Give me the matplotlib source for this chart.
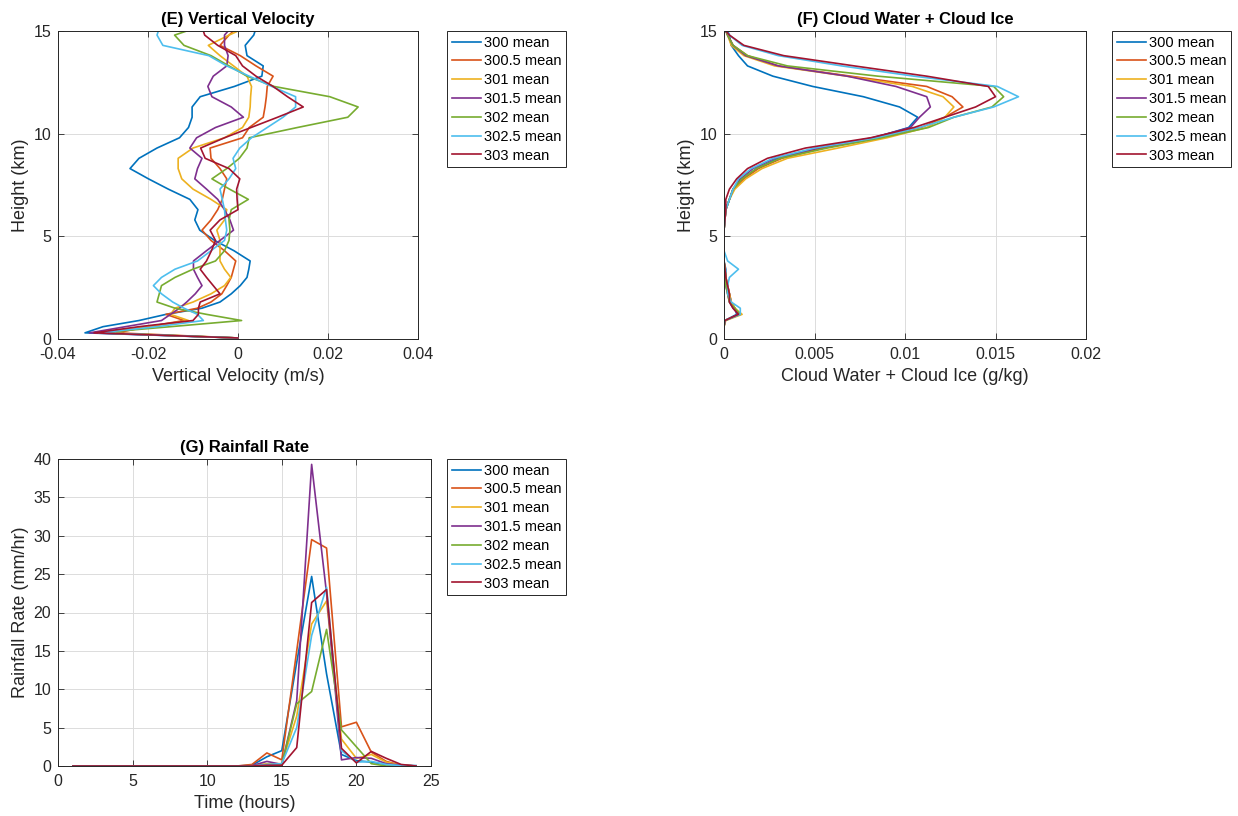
import matplotlib
matplotlib.use('Agg')
import matplotlib.pyplot as plt
import numpy as np

plt.rcParams['font.family'] = ['Liberation Sans', 'DejaVu Sans']
plt.rcParams['axes.unicode_minus'] = False

labels = ['300 mean', '300.5 mean', '301 mean', '301.5 mean', '302 mean', '302.5 mean', '303 mean']
colors = ['#0072BD', '#D95319', '#EDB120', '#7E2F8E', '#77AC30', '#4DBEEE', '#A2142F']

# model levels (km)
height = [0.05, 0.3, 0.6, 0.9, 1.2, 1.5, 1.8, 2.2, 2.6, 3.0, 3.4, 3.8, 4.3, 4.8, 5.3, 5.8, 6.3,
          6.8, 7.3, 7.8, 8.3, 8.8, 9.3, 9.8, 10.3, 10.8, 11.3, 11.8, 12.3, 12.8, 13.3, 13.8,
          14.3, 14.8, 15.0]

# (E) vertical velocity (m/s)
w300 = [0, -0.034, -0.030, -0.022, -0.016, -0.008, -0.004, -0.0015, 0.0005, 0.002, 0.0024, 0.0027,
        -0.0009, -0.0052, -0.0085, -0.0096, -0.0089, -0.0107, -0.0155, -0.0199, -0.024, -0.022,
        -0.018, -0.013, -0.011, -0.0102, -0.0102, -0.0084, -0.0008, 0.0053, 0.0056, 0.002, 0.0016,
        0.0035, 0.0038]
w300_5 = [0, -0.027, -0.020, -0.012, -0.016, -0.009, -0.006, -0.0036, -0.0025, -0.0015, -0.001,
          -0.0005, -0.003, -0.006, -0.008, -0.006, -0.0045, -0.0035, -0.003, -0.0025, -0.004, -0.006,
          -0.0062, 0.001, 0.0025, 0.0056, 0.006, 0.0063, 0.0065, 0.0078, 0.004, 0.0005, -0.004,
          -0.002, -0.001]
w301 = [0, -0.030, -0.020, -0.011, -0.015, -0.014, -0.010, -0.006, -0.003, -0.0016, -0.003, -0.004,
        -0.004, -0.004, -0.0047, -0.003, -0.0025, -0.006, -0.010, -0.0125, -0.0133, -0.0133, -0.010,
        -0.003, 0.001, 0.0024, 0.0027, 0.0028, 0.003, 0.002, -0.001, -0.004, -0.0066, -0.002, 0.0]
w301_5 = [0, -0.033, -0.025, -0.017, -0.015, -0.013, -0.0114, -0.0095, -0.008, -0.009, -0.0099,
          -0.0099, -0.007, -0.004, -0.001, -0.0018, -0.003, -0.0045, -0.007, -0.0096, -0.009, -0.008,
          -0.0107, -0.0092, -0.005, 0.0012, -0.0015, -0.0058, -0.0067, -0.0055, -0.0025, -0.0022,
          -0.003, -0.003, -0.0022]
w302 = [0, -0.031, -0.015, 0.0008, -0.007, -0.014, -0.018, -0.0175, -0.017, -0.014, -0.010, -0.005,
        -0.003, -0.002, -0.0018, -0.002, -0.0015, 0.0023, -0.0019, -0.0058, -0.0025, 0.0003, 0.002,
        0.0025, 0.0132, 0.0244, 0.0267, 0.0204, 0.008, 0.002, -0.002, -0.006, -0.012, -0.0141,
        -0.0114]
w302_5 = [0, -0.031, -0.018, -0.0077, -0.009, -0.012, -0.0145, -0.017, -0.0188, -0.017, -0.014,
          -0.009, -0.006, -0.003, -0.0025, -0.0028, -0.003, -0.0035, -0.004, -0.002, -0.0005,
          -0.0011, 0.0004, 0.003, 0.0065, 0.010, 0.0128, 0.0128, 0.0075, 0.0025, -0.0025, -0.0065,
          -0.0167, -0.018, -0.0177]
w303 = [0, -0.032, -0.022, -0.010, -0.0088, -0.0088, -0.0084, -0.004, -0.0055, -0.007, -0.0084,
        -0.007, -0.0059, -0.005, -0.0062, -0.004, 0.0, -0.0002, -0.0003, 0.0004, -0.002, -0.0073,
        -0.0083, -0.003, 0.0029, 0.0088, 0.0145, 0.011, 0.0078, 0.004, 0.001, -0.0005, -0.0045,
        -0.0074, -0.0077]

# (F) cloud water + cloud ice (g/kg)
q300 = [0, 0, 0, 0.00005, 0.0007, 0.0006, 0.0004, 0.0003, 0.0002, 0.0001, 0.0001, 0, 0, 0, 0,
        0.00005, 0.0001, 0.0003, 0.0005, 0.0010, 0.0018, 0.0030, 0.0053, 0.0083, 0.0102, 0.0107,
        0.0097, 0.0077, 0.0049, 0.0027, 0.0013, 0.0008, 0.0004, 0.0003, 0.0002]
q300_5 = [0, 0, 0, 0.00005, 0.0008, 0.0006, 0.0004, 0.0003, 0.0002, 0.0001, 0.00005, 0, 0, 0, 0,
          0.00005, 0.0001, 0.0003, 0.0005, 0.0011, 0.0019, 0.0032, 0.0055, 0.0086, 0.0109, 0.0122,
          0.0132, 0.0126, 0.0112, 0.0070, 0.0030, 0.0013, 0.0005, 0.0002, 0.0001]
q301 = [0, 0, 0, 0.0001, 0.0010, 0.0006, 0.0004, 0.0003, 0.0002, 0.0001, 0.00005, 0, 0, 0, 0,
        0.00005, 0.0001, 0.0003, 0.0006, 0.0012, 0.0021, 0.0035, 0.0063, 0.0090, 0.0112, 0.0122,
        0.0127, 0.0121, 0.0104, 0.0068, 0.0028, 0.0011, 0.0004, 0.0002, 0.0001]
q301_5 = [0, 0, 0, 0.00005, 0.0008, 0.0005, 0.0003, 0.0002, 0.0001, 0.0001, 0.00005, 0, 0, 0, 0,
          0.00005, 0.0001, 0.0003, 0.0005, 0.0009, 0.0016, 0.0028, 0.0052, 0.0082, 0.0103, 0.0108,
          0.0114, 0.0112, 0.0095, 0.0068, 0.0030, 0.0012, 0.0005, 0.0002, 0.0001]
q302 = [0, 0, 0, 0.00005, 0.0009, 0.0006, 0.0003, 0.0002, 0.0001, 0.0001, 0.00005, 0, 0, 0, 0,
        0.00005, 0.0001, 0.0003, 0.0005, 0.0010, 0.0018, 0.0031, 0.0057, 0.0087, 0.0113, 0.0127,
        0.0148, 0.01545, 0.0149, 0.0085, 0.0035, 0.0013, 0.0005, 0.0002, 0.0001]
q302_5 = [0, 0, 0, 0.00005, 0.0009, 0.0009, 0.0004, 0.0002, 0.0002, 0.0003, 0.0008, 0.0002, 0, 0, 0,
          0.00005, 0.0001, 0.0003, 0.0005, 0.0008, 0.0015, 0.0027, 0.0050, 0.0084, 0.0108, 0.0127,
          0.0149, 0.01627, 0.0151, 0.0105, 0.0065, 0.0030, 0.0010, 0.0003, 0.0001]
q303 = [0, 0, 0, 0.00005, 0.0008, 0.0005, 0.0003, 0.0003, 0.0002, 0.0001, 0.00005, 0, 0, 0, 0,
        0.00005, 0.0001, 0.0001, 0.0003, 0.0007, 0.0013, 0.0024, 0.0045, 0.0081, 0.0105, 0.0122,
        0.0139, 0.0150, 0.0146, 0.0112, 0.0072, 0.0033, 0.0011, 0.0003, 0.0001]

# (G) rainfall rate (mm/hr)
hours = list(range(1, 25))
r300 = [0]*12 + [0.1, 1.2, 2.0, 13.5, 24.7, 12.0, 1.5, 0.7, 0.5, 0.2, 0.1, 0.05]
r300_5 = [0]*12 + [0.2, 1.7, 0.8, 15.0, 29.5, 28.4, 5.1, 5.7, 1.8, 0.6, 0.1, 0.0]
r301 = [0]*12 + [0.05, 0.3, 0.3, 6.5, 18.5, 21.5, 3.5, 1.0, 1.5, 0.5, 0.1, 0.0]
r301_5 = [0]*12 + [0.05, 0.6, 0.2, 8.5, 39.3, 22.5, 0.8, 1.1, 1.0, 0.3, 0.1, 0.0]
r302 = [0]*12 + [0.0, 0.1, 0.2, 8.1, 9.7, 17.8, 4.7, 2.5, 0.3, 0.0, 0.0, 0.0]
r302_5 = [0]*12 + [0.0, 0.2, 0.3, 5.0, 17.0, 23.3, 2.0, 0.5, 0.6, 0.2, 0.05, 0.0]
r303 = [0]*12 + [0.0, 0.1, 0.1, 2.4, 21.3, 23.0, 2.3, 0.4, 1.9, 1.0, 0.2, 0.0]

W = [w300, w300_5, w301, w301_5, w302, w302_5, w303]
Q = [q300, q300_5, q301, q301_5, q302, q302_5, q303]
R = [r300, r300_5, r301, r301_5, r302, r302_5, r303]

TXT = '#262626'
fig = plt.figure(figsize=(12.38, 8.16), dpi=100)


def style(ax):
    ax.tick_params(direction='in', top=True, right=True, length=4, width=0.6,
                   colors=TXT, labelsize=11.5)
    ax.tick_params(axis='x', pad=6)
    ax.tick_params(axis='y', pad=5)
    ax.grid(True, color='#dcdcdc', linewidth=0.7)
    ax.set_axisbelow(True)
    for s in ax.spines.values():
        s.set_color(TXT)
        s.set_linewidth(0.7)


def legend(ax, xa):
    lg = ax.legend(loc='upper left', bbox_to_anchor=(xa, 1.0), borderaxespad=0,
                   fontsize=10.5, frameon=True, fancybox=False, framealpha=1,
                   edgecolor='#262626', handlelength=2.0, handletextpad=0.2,
                   labelspacing=0.33, borderpad=0.32)
    lg.get_frame().set_linewidth(0.7)


def fmt(v):
    return '%g' % v


def labels_for(ax, title, xl, yl):
    ax.set_title(title, fontsize=12, fontweight='bold', color='black', pad=5)
    ax.set_xlabel(xl, fontsize=13, color=TXT, labelpad=4)
    ax.set_ylabel(yl, fontsize=13, color=TXT, labelpad=3)


# (E)
axE = fig.add_axes([58/1238, 1-339/816, 360/1238, 308/816])
for vals, c, l in zip(W, colors, labels):
    axE.plot(vals, height, color=c, lw=1.2, label=l)
axE.set_xlim(-0.04, 0.04)
axE.set_ylim(0, 15)
xt = [-0.04, -0.02, 0, 0.02, 0.04]
axE.set_xticks(xt)
axE.set_xticklabels([fmt(v) for v in xt])
axE.set_yticks([0, 5, 10, 15])
style(axE)
labels_for(axE, '(E) Vertical Velocity', 'Vertical Velocity (m/s)', 'Height (km)')
legend(axE, (447-58)/360)

# (F)
axF = fig.add_axes([724/1238, 1-339/816, 362/1238, 308/816])
for vals, c, l in zip(Q, colors, labels):
    axF.plot(vals, height, color=c, lw=1.2, label=l)
axF.set_xlim(0, 0.02)
axF.set_ylim(0, 15)
xt = [0, 0.005, 0.01, 0.015, 0.02]
axF.set_xticks(xt)
axF.set_xticklabels([fmt(v) for v in xt])
axF.set_yticks([0, 5, 10, 15])
style(axF)
labels_for(axF, '(F) Cloud Water + Cloud Ice', 'Cloud Water + Cloud Ice (g/kg)', 'Height (km)')
legend(axF, (1112-724)/362)

# (G)
axG = fig.add_axes([58/1238, 1-766/816, 373/1238, 307/816])
for vals, c, l in zip(R, colors, labels):
    axG.plot(hours, vals, color=c, lw=1.2, label=l)
axG.set_xlim(0, 25)
axG.set_ylim(0, 40)
axG.set_xticks([0, 5, 10, 15, 20, 25])
axG.set_yticks(list(range(0, 41, 5)))
style(axG)
labels_for(axG, '(G) Rainfall Rate', 'Time (hours)', 'Rainfall Rate (mm/hr)')
legend(axG, (447-58)/373)

fig.savefig('out.png', dpi=100, facecolor='white')
